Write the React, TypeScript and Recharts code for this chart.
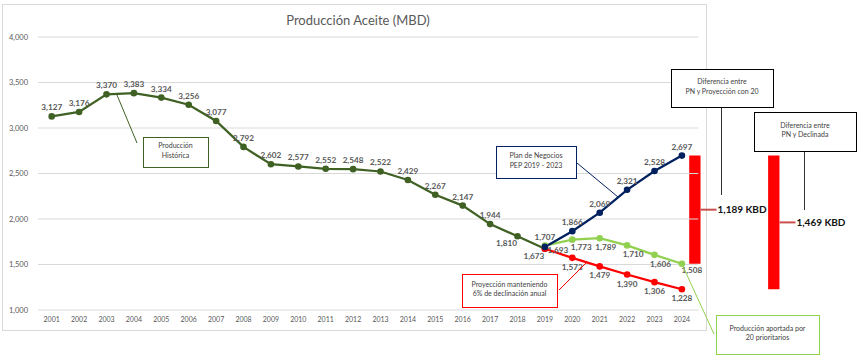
import {
  ComposedChart,
  Line,
  Bar,
  XAxis,
  YAxis,
  ReferenceLine,
  LabelList,
} from "recharts";

// años del eje
const years = [
  2001, 2002, 2003, 2004, 2005, 2006, 2007, 2008, 2009, 2010, 2011, 2012,
  2013, 2014, 2015, 2016, 2017, 2018, 2019, 2020, 2021, 2022, 2023, 2024,
];

// producción histórica 2001-2019 (MBD)
const historica = [
  3127, 3176, 3370, 3383, 3334, 3256, 3077, 2792, 2602, 2577, 2552, 2548,
  2522, 2429, 2267, 2147, 1944, 1810, 1673,
];

// proyecciones 2019-2024
const projYears = [2019, 2020, 2021, 2022, 2023, 2024];
const planNegocios = [1693, 1866, 2069, 2321, 2528, 2697];
const declinacion = [1673, 1573, 1479, 1390, 1306, 1228];
const prioritarios = [1707, 1773, 1789, 1710, 1606, 1508];

const yTicks = [1000, 1500, 2000, 2500, 3000, 3500, 4000];

// dónde van las barras de diferencia (en el eje de años)
const gapSlots = [2024.46, 2027.34];
const gapRanges = [
  [prioritarios[5], planNegocios[5]],
  [declinacion[5], planNegocios[5]],
];

const rows: any[] = years.map((year) => {
  const hi = year - 2001;
  const pi = projYears.indexOf(year);
  return {
    year,
    historica: hi < historica.length ? historica[hi] : undefined,
    plan: pi >= 0 ? planNegocios[pi] : undefined,
    declinacion: pi >= 0 ? declinacion[pi] : undefined,
    prioritarios: pi >= 0 ? prioritarios[pi] : undefined,
  };
});
gapSlots.forEach((slot, i) => rows.push({ year: slot, gap: gapRanges[i] }));

const FONT = "Lato, 'Liberation Sans', sans-serif";
const GRAY = "#595959";
const C_HIST = "#3f6124";
const C_PLAN = "#002060";
const C_DECL = "#ff0000";
const C_PRIO = "#92d050";

const offsets: Record<string, [number, number]> = {
  top: [0, -6],
  bottom: [0, 12],
  bottomLeft: [-11, 10],
  right: [13, 6],
  bottomRight: [6, 12],
  bottomRight1: [9, 10],
  bottomRight2: [10, 9],
};

const histPlace = historica.map((_, i) => (i >= 17 ? "bottomLeft" : "top"));
const planPlace = ["right", "top", "top", "top", "top", "top"];
const declPlace = ["none", "bottom", "bottom", "bottom", "bottom", "bottom"];
const prioPlace = ["top", "bottomRight1", "bottomRight", "bottomRight", "bottomRight", "bottomRight2"];

const fmt = (v: number) => v.toLocaleString("en-US");

const pointLabel = (place: string[], first: number) => (props: any) => {
  const { x, y, value, index } = props;
  if (value == null || x == null || y == null) return null;
  const yr = rows[index]?.year;
  const p = place[yr - first];
  if (!p || p === "none") return null;
  const [dx, dy] = offsets[p];
  return (
    <text
      x={x + dx}
      y={y + dy}
      textAnchor="middle"
      fontSize={8.2}
      fontWeight={700}
      fill={GRAY}
      fontFamily={FONT}
    >
      {fmt(value)}
    </text>
  );
};

const gapLabel = (props: any) => {
  const { x, y, width, height, value } = props;
  if (!Array.isArray(value) || !isFinite(y) || !isFinite(height)) return null;
  const top = Math.min(y, y + height);
  const my = top + Math.abs(height) / 2;
  const x0 = x + width;
  return (
    <g>
      <line x1={x0} y1={my} x2={x0 + 16} y2={my} stroke="#c9504d" strokeWidth={2} />
      <text
        x={x0 + 17}
        y={my + 3.5}
        fontSize={10}
        fontWeight={700}
        fill="#111"
        fontFamily={FONT}
      >
        {fmt(value[1] - value[0])} KBD
      </text>
    </g>
  );
};

const Box = ({ x, y, w, h, stroke, lines }: any) => (
  <g>
    <rect x={x + 0.5} y={y + 0.5} width={w} height={h} fill="#fff" stroke={stroke} strokeWidth={1} />
    {lines.map((t: string, i: number) => (
      <text
        key={t}
        x={x + w / 2}
        y={y + h / 2 - 1.5 + (i - (lines.length - 1) / 2) * 9.5 + 2.5}
        textAnchor="middle"
        fontSize={7}
        fill="#404040"
        fontFamily={FONT}
      >
        {t}
      </text>
    ))}
  </g>
);

export default function App() {
  return (
    <div style={{ position: "absolute", left: 0, top: 0, width: 861, height: 360, background: "#fff" }}>
      <svg width={861} height={360} style={{ position: "absolute", left: 0, top: 0 }}>
        <rect x={2.5} y={4.5} width={704} height={326} fill="#fff" stroke="#d9d9d9" />
        <text x={358} y={25} textAnchor="middle" fontSize={13} fill={GRAY} fontFamily={FONT}>
          Producción Aceite (MBD)
        </text>
      </svg>
      <div style={{ position: "absolute", left: 0, top: 0 }}>
        <ComposedChart
          width={861}
          height={360}
          data={rows}
          margin={{ top: 37, right: 1, left: 0, bottom: 30 }}
        >
          {yTicks.map((t) => (
            <ReferenceLine
              key={t}
              segment={[
                { x: 2000.5, y: t },
                { x: 2024.6, y: t },
              ]}
              stroke="#d9d9d9"
              strokeWidth={1}
            />
          ))}
          <XAxis
            dataKey="year"
            type="number"
            domain={[2000.5, 2030.5]}
            ticks={years}
            interval={0}
            axisLine={false}
            tickLine={false}
            tickSize={0}
            tickMargin={7}
            height={20}
            tick={{ fontSize: 7, fill: GRAY, fontFamily: FONT }}
          />
          <YAxis
            type="number"
            domain={[1000, 4000]}
            ticks={yTicks}
            interval={0}
            axisLine={false}
            tickLine={false}
            tickSize={0}
            tickMargin={10}
            width={38}
            tickFormatter={fmt}
            tick={{ fontSize: 7.5, fill: GRAY, fontFamily: FONT }}
          />
          <Bar dataKey="gap" barSize={13} fill="#ff0000" isAnimationActive={false}>
            <LabelList dataKey="gap" content={gapLabel} />
          </Bar>
          <Line
            dataKey="historica"
            stroke={C_HIST}
            strokeWidth={2.25}
            dot={{ r: 2.2, fill: C_HIST, stroke: C_HIST }}
            isAnimationActive={false}
          >
            <LabelList dataKey="historica" content={pointLabel(histPlace, 2001)} />
          </Line>
          <Line
            dataKey="declinacion"
            stroke={C_DECL}
            strokeWidth={2.25}
            dot={{ r: 2.2, fill: C_DECL, stroke: C_DECL }}
            isAnimationActive={false}
          >
            <LabelList dataKey="declinacion" content={pointLabel(declPlace, 2019)} />
          </Line>
          <Line
            dataKey="prioritarios"
            stroke={C_PRIO}
            strokeWidth={2.25}
            dot={{ r: 2.2, fill: C_PRIO, stroke: C_PRIO }}
            isAnimationActive={false}
          >
            <LabelList dataKey="prioritarios" content={pointLabel(prioPlace, 2019)} />
          </Line>
          <Line
            dataKey="plan"
            stroke={C_PLAN}
            strokeWidth={2.25}
            dot={{ r: 2.2, fill: C_PLAN, stroke: C_PLAN }}
            isAnimationActive={false}
          >
            <LabelList dataKey="plan" content={pointLabel(planPlace, 2019)} />
          </Line>
        </ComposedChart>
      </div>
      <svg width={861} height={360} style={{ position: "absolute", left: 0, top: 0, pointerEvents: "none" }}>
        {/* conectores de las notas */}
        <line x1={117} y1={95} x2={137} y2={143} stroke={C_HIST} strokeWidth={1} />
        <line x1={577} y1={163} x2={618} y2={197} stroke={C_PLAN} strokeWidth={1} />
        <line x1={559} y1={290} x2={586} y2={263} stroke={C_DECL} strokeWidth={1} />
        <line x1={681} y1={262} x2={714} y2={334} stroke={C_PRIO} strokeWidth={1} />
        <line x1={721.5} y1={107} x2={721.5} y2={195} stroke="#333" strokeWidth={1} />
        <line x1={804.5} y1={151} x2={804.5} y2={210} stroke="#333" strokeWidth={1} />
        <Box x={143} y={137} w={65} h={30} stroke={C_HIST} lines={["Producción", "Histórica"]} />
        <Box x={496} y={146} w={80} h={32} stroke={C_PLAN} lines={["Plan de Negocios", "PEP 2019 - 2023"]} />
        <Box x={671} y={69} w={102} h={38} stroke="#000" lines={["Diferencia entre", "PN y Proyección con 20"]} />
        <Box x={754} y={112} w={102} h={39} stroke="#000" lines={["Diferencia entre", "PN y Declinada"]} />
        <Box x={462} y={274} w={95} h={33} stroke={C_DECL} lines={["Proyección manteniendo", "6% de declinación anual"]} />
        <Box x={716} y={315} w={103} h={39} stroke={C_PRIO} lines={["Producción aportada por", "20 prioritarios"]} />
      </svg>
    </div>
  );
}
